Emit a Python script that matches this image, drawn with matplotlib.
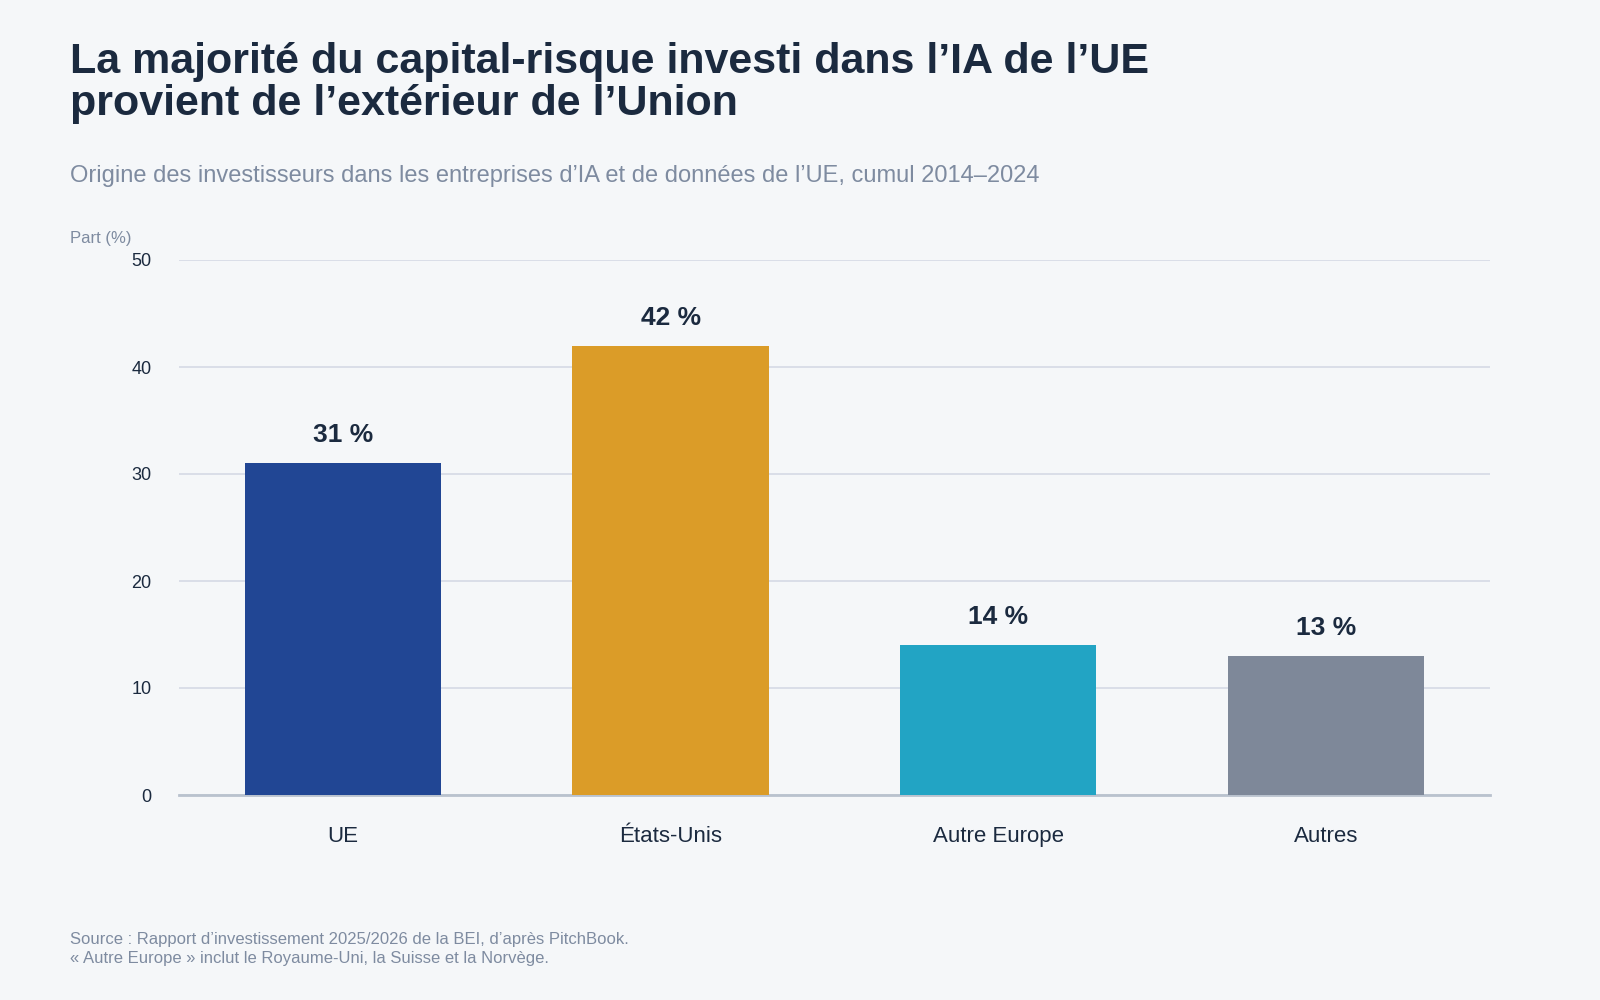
import matplotlib
matplotlib.use("Agg")
import matplotlib.pyplot as plt

categories = ["UE", "États-Unis", "Autre Europe", "Autres"]
values = [31, 42, 14, 13]
colors = ["#214694", "#DB9C28", "#22A4C4", "#7E8899"]
yticks = [0, 10, 20, 30, 40, 50]

plt.rcParams['font.family'] = ['Liberation Sans', 'DejaVu Sans']
bg = "#F5F7F9"
fig = plt.figure(figsize=(16, 10), dpi=100, facecolor=bg)
ax = fig.add_axes([0.112, 0.205, 0.819, 0.535], facecolor=bg)

x = range(len(categories))
ax.bar(x, values, width=0.6, color=colors, zorder=3)
for i, v in zip(x, values):
    ax.text(i, v + 1.5, f"{v} %", ha="center", va="bottom", fontsize=19,
            fontweight="bold", color="#1B2A3F")
ax.set_xlim(-0.5, 3.5)
ax.set_ylim(0, 50)
ax.set_yticks(yticks)
ax.set_xticks(list(x))
ax.set_xticklabels(categories, fontsize=16, color="#1B2A3F")
ax.tick_params(axis="x", length=0, pad=22)
ax.tick_params(axis="y", length=0, labelsize=13, labelcolor="#1B2A3F", pad=20)
ax.grid(axis="y", color="#D5DAE5", linewidth=1.2, zorder=0)
for s in ["top", "right", "left"]:
    ax.spines[s].set_visible(False)
ax.spines["bottom"].set_color("#B9C2CE")
ax.spines["bottom"].set_linewidth(2)

fig.text(0.044, 0.958, "La majorité du capital-risque investi dans l’IA de l’UE\nprovient de l’extérieur de l’Union",
         fontsize=31, fontweight="bold", color="#1B2A3F", va="top", linespacing=1.05)
fig.text(0.044, 0.824, "Origine des investisseurs dans les entreprises d’IA et de données de l’UE, cumul 2014–2024",
         fontsize=17, color="#7E8BA0", va="center")
fig.text(0.044, 0.762, "Part (%)", fontsize=12, color="#7E8BA0", va="center")
fig.text(0.044, 0.051, "Source : Rapport d’investissement 2025/2026 de la BEI, d’après PitchBook.\n« Autre Europe » inclut le Royaume-Uni, la Suisse et la Norvège.",
         fontsize=12, color="#7E8BA0", va="center", linespacing=1.3)
fig.savefig("out.png", facecolor=bg)
